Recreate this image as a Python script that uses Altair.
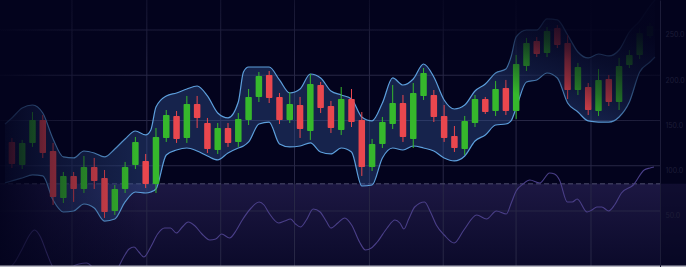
import altair as alt
import pandas as pd

# ---------------- data ----------------
candle_open = [126.3, 100.9, 125.2, 150.6, 116.3, 64.4, 88.7, 74.3, 98.6, 86.5,
               50.0, 74.3, 100.9, 105.3, 79.8, 130.7, 155.0, 130.7, 168.2, 147.2,
               117.4, 141.7, 126.3, 150.6, 176.0, 200.3, 176.0, 150.6, 167.1, 138.4,
               189.2, 166.0, 139.5, 173.8, 150.6, 98.6, 124.1, 146.1, 169.3, 129.6,
               177.1, 178.2, 155.0, 132.9, 118.5, 147.2, 173.8, 160.5, 185.9, 160.5,
               210.2, 237.8, 224.6, 252.2, 235.6, 183.7, 187.0, 160.5, 195.9, 170.4,
               211.3, 222.4, 243.4]
candle_high = [130.7, 128.5, 159.4, 156.1, 125.2, 93.1, 93.1, 110.8, 108.6, 95.3,
               78.7, 104.2, 131.8, 113.0, 141.7, 161.6, 160.5, 177.1, 177.1, 152.8,
               147.2, 147.2, 158.3, 184.8, 203.6, 204.7, 180.4, 181.5, 176.0, 201.4,
               192.6, 171.6, 187.0, 184.8, 159.4, 129.6, 153.9, 189.2, 178.2, 191.4,
               208.0, 183.7, 167.1, 143.9, 155.0, 178.2, 176.0, 193.7, 194.8, 222.4,
               241.2, 242.3, 253.3, 255.5, 244.5, 213.6, 191.4, 206.9, 200.3, 219.1,
               227.9, 252.2, 257.7]
candle_low = [97.5, 96.4, 120.8, 108.6, 56.6, 58.8, 60.0, 69.9, 74.3, 42.3,
              45.6, 69.9, 96.4, 75.4, 69.9, 126.3, 125.2, 125.2, 141.7, 114.1,
              113.0, 120.8, 120.8, 145.0, 170.4, 169.3, 146.1, 147.2, 130.7, 128.5,
              158.3, 136.2, 134.0, 142.8, 88.7, 94.2, 119.6, 140.6, 126.3, 119.6,
              172.7, 148.3, 126.3, 115.2, 111.9, 142.8, 157.2, 155.0, 156.1, 151.7,
              204.7, 220.2, 220.2, 230.1, 173.8, 178.2, 156.1, 155.0, 166.0, 161.6,
              208.0, 218.0, 241.2]
candle_close = [102.0, 125.2, 150.6, 114.1, 65.5, 88.7, 74.3, 98.6, 83.2, 48.9,
                74.3, 98.6, 126.3, 79.8, 131.8, 156.1, 129.6, 168.2, 152.8, 118.5,
                141.7, 125.2, 151.7, 176.0, 199.2, 174.9, 150.6, 168.2, 140.6, 190.3,
                163.8, 141.7, 173.8, 148.3, 98.6, 124.1, 148.3, 169.3, 131.8, 180.4,
                202.5, 153.9, 130.7, 119.6, 149.5, 173.8, 159.4, 184.8, 160.5, 212.4,
                235.6, 223.5, 248.9, 233.4, 183.7, 209.1, 161.6, 194.8, 170.4, 210.2,
                222.4, 246.7, 254.4]
candle_index = list(range(len(candle_open)))

band_x = [-0.67, 0, 1, 2, 3, 4, 5, 6, 7, 8, 9, 10, 11, 12, 13, 13.5, 14, 15, 16, 17,
          18, 19, 20, 21, 22, 22.5, 23, 24, 25, 26, 27, 28, 29, 30, 31, 32, 33, 34,
          35, 36, 37, 38, 39, 40, 41, 42, 43, 44, 45, 46, 47, 48, 48.5, 49, 50, 51,
          52, 53, 54, 55, 56, 57, 58, 59, 60, 61, 62, 62.49]
band_upper = [146.1, 152.8, 163.8, 167.1, 158.3, 129.6, 109.7, 108.6, 116.3, 114.1,
              109.7, 118.5, 129.6, 138.4, 134.0, 139.5, 164.9, 177.1, 180.4, 184.8,
              188.1, 177.1, 158.3, 152.8, 170.4, 203.6, 209.1, 209.1, 209.1, 194.8,
              180.4, 184.8, 201.4, 197.0, 182.6, 178.2, 173.8, 153.9, 149.5, 169.3,
              197.0, 189.2, 195.9, 212.4, 198.1, 172.7, 162.7, 167.1, 182.6, 190.3,
              202.5, 206.9, 220.2, 242.3, 250.0, 250.0, 262.2, 261.1, 244.5, 225.7,
              219.1, 223.5, 221.3, 227.9, 247.8, 259.9, 276.5, 283.2]
band_lower = [81.0, 83.2, 86.5, 89.8, 88.7, 62.1, 48.9, 50.0, 57.7, 53.3,
              38.9, 41.2, 60.0, 71.0, 69.9, 71.0, 74.3, 111.9, 117.4, 119.6,
              116.3, 110.8, 106.4, 114.1, 119.6, 121.8, 126.3, 146.1, 148.3, 124.1,
              120.8, 121.8, 125.2, 115.2, 113.0, 119.6, 115.2, 77.6, 78.7, 108.6,
              119.6, 117.4, 121.8, 119.6, 116.3, 108.6, 105.3, 110.8, 127.3, 134.0,
              145.0, 146.1, 149.5, 163.8, 192.6, 194.8, 202.5, 197.0, 169.3, 159.4,
              149.5, 148.3, 148.3, 153.9, 170.4, 203.6, 214.6, 220.2]

ind_x = [-0.67, 0.29, 1.05, 1.72, 2.20, 2.78, 3.35, 3.92, 4.69, 5.65,
         6.51, 7.27, 7.94, 8.90, 10.05, 10.81, 11.39, 11.87, 12.34, 12.82,
         13.49, 14.16, 14.83, 15.41, 15.98, 16.56, 17.13, 17.80, 18.47, 19.23,
         19.81, 20.38, 21.15, 21.82, 22.39, 23.25, 24.02, 24.50, 24.98, 25.93,
         26.51, 27.08, 27.56, 28.04, 28.61, 29.28, 29.95, 30.53, 31.00, 31.67,
         32.34, 33.01, 33.78, 34.35, 34.93, 35.50, 36.46, 37.22, 37.70, 38.09,
         38.56, 39.14, 40.10, 40.67, 41.24, 42.01, 42.97, 43.92, 45.17, 46.12,
         47.08, 48.04, 48.52, 49.00, 49.67, 50.33, 51.29, 52.25, 52.73, 53.21,
         53.97, 54.45, 54.93, 55.89, 56.36, 56.84, 57.32, 57.99, 58.56, 59.23,
         60.38, 61.44, 62.01, 62.39]
ind_value = [-5, 5, 19, 32, 37, 30, 15, 1, -9, -1,
             3, 4, -1, -9, -5, 9, 18, 20, 15, 10,
             20, 33, 39, 39, 34, 40, 45, 41, 33, 27,
             28, 33, 29, 37, 47, 59, 65, 62, 54, 44,
             46, 48, 43, 40, 47, 58, 55, 46, 39, 44,
             49, 42, 25, 17, 19, 25, 39, 47, 44, 38,
             48, 60, 65, 55, 42, 32, 24, 37, 52, 48,
             56, 53, 64, 76, 83, 87, 84, 94, 93, 87,
             65, 65, 68, 55, 57, 60, 60, 56, 62, 74,
             82, 97, 99, 100]

price_ticks = [50, 100, 150, 200, 250]
time_grid = [5.84, 13.11, 20.29, 27.46, 34.74, 41.91, 48.99, 56.27]
threshold = [80.0]

# ---------------- styling ----------------
BG = "#03031d"
GRID = "#282846"
GREEN = "#36b82c"
RED = "#e9474e"

x_scale = alt.Scale(domain=[-0.67, 62.49], nice=False, zero=False)
y_scale = alt.Scale(domain=[-11.9, 283.15], nice=False, zero=False)
y_axis = alt.Axis(orient="right", values=price_ticks, format=".1f", ticks=False,
                  grid=False, domain=True, domainColor="#1c1c38", domainWidth=1,
                  labelColor="#1d1d38", labelFontSize=7, labelFont="Inter",
                  labelPadding=5, labelBaseline="top", labelOffset=1,
                  labelAlign="left", title=None, zindex=1)


def X(f):
    return alt.X(f, scale=x_scale, axis=None)


def Y(f):
    return alt.Y(f, scale=y_scale, axis=y_axis)


def fade(x1, y1, x2, y2, stops):
    return {"gradient": "linear", "x1": x1, "y1": y1, "x2": x2, "y2": y2,
            "stops": [{"offset": o, "color": f"rgba(3,3,29,{a})"} for o, a in stops]}


candles = pd.DataFrame({"i": candle_index, "open": candle_open, "high": candle_high,
                        "low": candle_low, "close": candle_close})
band_df = pd.DataFrame({"t": band_x, "upper": band_upper, "lower": band_lower})
ind_df = pd.DataFrame({"t": ind_x, "v": ind_value})
one = pd.DataFrame({"k": [0]})

lower_bg = alt.Chart(pd.DataFrame({"level": threshold})).mark_rect(
    fill={"gradient": "linear", "x1": 0, "y1": 0, "x2": 0, "y2": 1,
          "stops": [{"offset": 0, "color": "#1c1742"},
                    {"offset": 1, "color": "#0b0a2a"}]}
).encode(x=alt.value(0), x2=alt.value(686), y=Y("level:Q"), y2=alt.value(267))

hgrid = alt.Chart(pd.DataFrame({"p": price_ticks})).mark_rule(
    color=GRID, strokeWidth=1).encode(y=Y("p:Q"), x=alt.value(0), x2=alt.value(660))
vgrid = alt.Chart(pd.DataFrame({"t": time_grid})).mark_rule(
    color=GRID, strokeWidth=1).encode(x=X("t:Q"), y=alt.value(0), y2=alt.value(267))
dashed = alt.Chart(pd.DataFrame({"level": threshold})).mark_rule(
    color="#4e4e6e", strokeDash=[5, 3], strokeWidth=1
).encode(y=Y("level:Q"), x=alt.value(0), x2=alt.value(660))

band_area = alt.Chart(band_df).mark_area(
    interpolate="monotone", color="#33518f", opacity=0.42
).encode(x=X("t:Q"), y=Y("upper:Q"), y2="lower:Q")
band_up = alt.Chart(band_df).mark_line(
    interpolate="monotone", color="#5d9fdc", strokeWidth=1.2
).encode(x=X("t:Q"), y=Y("upper:Q"))
band_lo = alt.Chart(band_df).mark_line(
    interpolate="monotone", color="#5d9fdc", strokeWidth=1.2
).encode(x=X("t:Q"), y=Y("lower:Q"))

color_enc = alt.Color("dir:N", scale=alt.Scale(domain=["up", "down"], range=[GREEN, RED]),
                      legend=None)
cbase = alt.Chart(candles).transform_calculate(
    dir="datum.close >= datum.open ? 'up' : 'down'")
wicks = cbase.mark_rule(strokeWidth=1).encode(
    x=X("i:Q"), y=Y("low:Q"), y2="high:Q", color=color_enc)
bodies = cbase.mark_bar(size=6.5, cornerRadius=1).encode(
    x=X("i:Q"), y=Y("open:Q"), y2="close:Q", color=color_enc)

price = alt.layer(lower_bg, hgrid, vgrid, dashed, band_area, band_up, band_lo, wicks, bodies)

ind = alt.Chart(ind_df).mark_line(
    interpolate="monotone", color="#4a3f88", strokeWidth=1.1, clip=True
).encode(x=X("t:Q"),
         y=alt.Y("v:Q", scale=alt.Scale(domain=[0, 267], nice=False, zero=False), axis=None))

left_fade = alt.Chart(one).mark_rect(
    fill=fade(0, 0, 1, 0, [(0, 0.9), (0.35, 0.5), (1, 0)])
).encode(x=alt.value(0), x2=alt.value(140), y=alt.value(0), y2=alt.value(267))

top_fade = alt.Chart(one).mark_rect(
    fill=fade(0, 0, 0, 1, [(0, 0.5), (1, 0)])
).encode(x=alt.value(0), x2=alt.value(686), y=alt.value(0), y2=alt.value(60))

corner_fade = alt.Chart(one).mark_rect(
    fill=fade(0.72, 0.5, 1.02, 0.2,
              [(0, 0), (0.3, 0), (0.5, 0.4), (0.7, 0.68), (1, 0.95)])
).encode(x=alt.value(0), x2=alt.value(686), y=alt.value(0), y2=alt.value(267))

margin_dark = alt.Chart(one).mark_rect(fill="rgba(3,3,29,0.5)").encode(
    x=alt.value(660), x2=alt.value(686), y=alt.value(0), y2=alt.value(267))

bottom_line = alt.Chart(one).mark_rule(color="#b6b6c2", strokeWidth=1.5).encode(
    x=alt.value(0), x2=alt.value(686), y=alt.value(266.3))

chart = alt.layer(
    price, ind, left_fade, top_fade, corner_fade, margin_dark, bottom_line
).resolve_scale(y="independent").properties(
    width=660, height=267,
    padding={"left": 0, "top": 0, "right": 26, "bottom": 0},
    autosize=alt.AutoSizeParams(type="none"),
    background=BG,
).configure_view(stroke=None)

chart.save("out.html", embed_options={"renderer": "svg", "actions": False})
